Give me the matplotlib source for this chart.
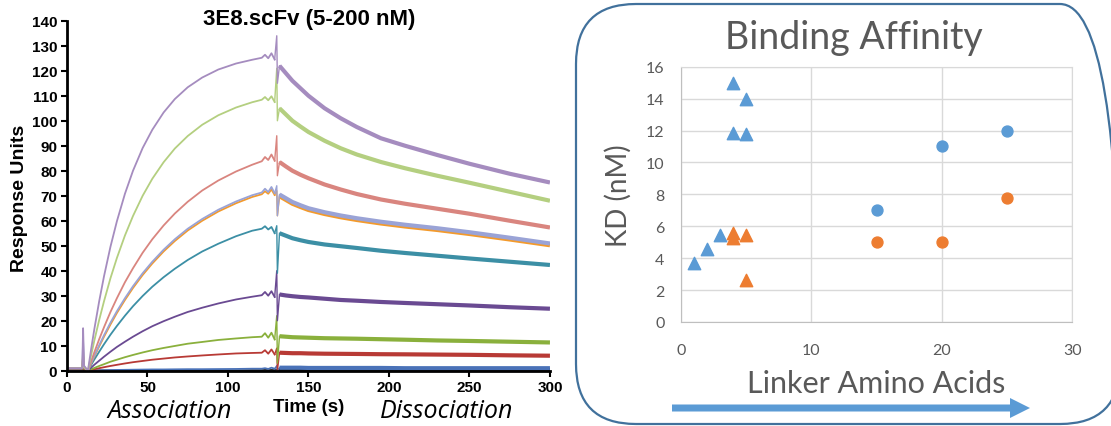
import matplotlib.pyplot as plt
from matplotlib.patches import FancyBboxPatch, FancyArrow

plt.rcParams['font.family'] = ['Liberation Sans', 'DejaVu Sans']

# ---- left panel: sensorgram ----
t_assoc = [0, 9.5, 10, 10.6, 13, 15, 17, 20, 23, 27, 31, 36, 41, 47, 53, 60, 67, 75, 84, 94,
           105, 115, 121, 123, 125, 127, 129]
t_spike = [130.3, 130.7]
t_dissoc = [132, 136, 140, 145, 150, 160, 170, 180, 195, 210, 230, 250, 275, 300]

black_assoc = [0.2, 0.2, 0.5, 0.2, 0, 0, 0, 0.1, 0.1, 0.1, 0.1, 0.1, 0.1, 0.1, 0.1, 0.1, 0.1,
               0.1, 0.1, 0.1, 0.1, 0.2, 0.2, 0.3, 0.2, 0.3, 0.2]
black_dissoc = [0.3] * 14
blue_assoc = [0.3, 0.3, 1.0, 0.4, 0, 0.05, 0.1, 0.15, 0.2, 0.25, 0.3, 0.35, 0.4, 0.45, 0.5,
              0.5, 0.55, 0.6, 0.6, 0.65, 0.7, 0.8, 0.8, 1.0, 0.7, 1.2, 0.8]
blue_dissoc = [1.2, 1.2, 1.2, 1.2, 1.1, 1.1, 1.1, 1.1, 1.1, 1.0, 1.0, 1.0, 1.0, 1.0]
darkred_assoc = [0.5, 0.5, 1.5, 0.5, 0, 0.3, 0.59, 1.0, 1.4, 1.9, 2.35, 2.9, 3.4, 3.9, 4.4,
                 4.85, 5.3, 5.7, 6.1, 6.5, 6.9, 7.1, 7.2, 8.2, 6.8, 8.5, 6.5]
darkred_dissoc = [7.2, 7.1, 7.0, 7.0, 6.9, 6.8, 6.75, 6.7, 6.6, 6.55, 6.45, 6.35, 6.15, 6.0]
olive_assoc = [0.8, 0.8, 2, 0.8, 0, 0.57, 1.1, 1.9, 2.6, 3.6, 4.4, 5.4, 6.3, 7.3, 8.2, 9.1,
               9.9, 10.8, 11.5, 12.3, 12.9, 13.4, 13.6, 15.0, 13.2, 15.2, 12.5]
olive_dissoc = [13.8, 13.6, 13.4, 13.3, 13.2, 13.0, 12.9, 12.8, 12.6, 12.4, 12.1, 11.9, 11.6, 11.3]
dpurple_assoc = [0.8, 0.8, 3, 1, 0, 1.2, 2.4, 4.0, 5.6, 7.6, 9.5, 11.6, 13.6, 15.8, 17.8,
                 19.8, 21.6, 23.5, 25.2, 26.9, 28.5, 29.6, 30.2, 31.5, 30.0, 31.8, 29.5]
dpurple_dissoc = [30.5, 30.1, 29.8, 29.5, 29.3, 28.8, 28.3, 28.0, 27.5, 27.1, 26.6, 26.1, 25.4, 24.8]
teal_assoc = [1, 1, 5, 1.2, 0, 2.3, 4.5, 7.6, 10.6, 14.4, 17.9, 22.0, 25.8, 29.9, 33.6, 37.4,
              40.8, 44.3, 47.7, 50.8, 53.8, 56.0, 56.8, 57.8, 56.5, 57.5, 55]
teal_dissoc = [55, 54, 53, 52.2, 51.5, 50.5, 49.8, 49.1, 48, 47.1, 46, 44.9, 43.6, 42.3]
orange_assoc = [1, 1, 6, 1.2, 0, 2.9, 5.7, 9.7, 13.6, 18.5, 23.1, 28.3, 33.1, 38.3, 42.9,
                47.7, 51.9, 56.1, 60.0, 63.7, 67.0, 69.5, 70.6, 71.8, 70.8, 72.5, 70.3]
orange_dissoc = [69.8, 68.3, 66.8, 65.5, 64.3, 62.7, 61.4, 60.3, 58.9, 57.7, 56.3, 54.7, 52.5, 50.2]
lav_assoc = [1, 1, 12, 1.5, 0, 3.1, 6.0, 10.2, 14.2, 19.2, 23.8, 29.0, 33.8, 39.0, 43.6, 48.4,
             52.6, 56.8, 60.7, 64.4, 67.7, 70.2, 71.3, 72.8, 71.5, 73.5, 71]
lav_dissoc = [70.5, 69, 67.5, 66.2, 65, 63.4, 62.1, 61, 59.6, 58.4, 57, 55.4, 53.2, 50.9]
salmon_assoc = [1, 1, 6, 1.5, 0, 3.8, 7.4, 12.6, 17.4, 23.5, 29.0, 35.4, 41.0, 47.2, 52.6,
                58.1, 62.9, 67.6, 72.1, 76.1, 79.7, 82.4, 83.8, 85.5, 84.3, 86.5, 84]
salmon_dissoc = [83.5, 81.7, 80, 78.4, 77, 74.5, 72.5, 70.7, 68.5, 66.8, 64.8, 62.8, 60, 57.3]
green_assoc = [1, 1, 8, 1.5, 0, 6.2, 12.1, 20.3, 27.8, 37.0, 45.1, 54.1, 61.9, 70.0, 76.8,
               83.4, 88.9, 93.9, 98.4, 102.2, 105.3, 107.4, 108.4, 109.5, 108.2, 109.8, 107.5]
green_dissoc = [105, 102.5, 100, 97.7, 95.5, 92, 89, 86.5, 83.5, 81, 78, 75.2, 71.6, 68]
purple_assoc = [1, 1, 17, 2, 0, 8.65, 16.7, 27.8, 37.8, 49.6, 59.8, 70.8, 80.0, 89.1, 96.4,
                103.3, 108.7, 113.4, 117.3, 120.5, 122.9, 124.4, 125.2, 126.4, 125.0, 127.0, 124.5]
purple_dissoc = [122, 119, 116, 113, 110, 105, 101, 97.5, 93, 90, 86.3, 82.8, 78.8, 75.3]

assoc_curves = [black_assoc, blue_assoc, darkred_assoc, olive_assoc, dpurple_assoc, teal_assoc,
                orange_assoc, lav_assoc, salmon_assoc, green_assoc, purple_assoc]
dissoc_curves = [black_dissoc, blue_dissoc, darkred_dissoc, olive_dissoc, dpurple_dissoc, teal_dissoc,
                 orange_dissoc, lav_dissoc, salmon_dissoc, green_dissoc, purple_dissoc]
spike_high = [0.5, 2, 9, 22, 40, 58, 72, 74, 94, 121, 134]
spike_low = [0, 0, 0, 3, 20, 39, 62, 62, 78, 100, 115]
curve_colors = ['#222222', '#4a72b8', '#b83a35', '#8ab03c', '#6a4a92', '#3c8fa5',
                '#f39a2c', '#9aa3d6', '#d9857f', '#b4cf80', '#a58cbf']

# ---- right panel: binding affinity ----
tri_blue_x = [1, 2, 3, 4, 4, 5, 5]
tri_blue_y = [3.7, 4.55, 5.45, 15.0, 11.85, 14.0, 11.75]
tri_orange_x = [4, 4, 5, 5]
tri_orange_y = [5.55, 5.25, 5.45, 2.6]
dot_blue_x = [15, 20, 25]
dot_blue_y = [7.0, 11.0, 12.0]
dot_orange_x = [15, 20, 25]
dot_orange_y = [5.0, 5.0, 7.8]

fig = plt.figure(figsize=(11.11, 4.27), dpi=100)

# left
ax = fig.add_axes([0.0603, 0.1295, 0.4347, 0.8195])
for a, d, hi, lo, c in zip(assoc_curves, dissoc_curves, spike_high, spike_low, curve_colors):
    ax.plot(t_assoc, a, color=c, lw=1.3)
    ax.plot([t_assoc[-1]] + t_spike + [t_dissoc[0]], [a[-1], hi, lo, d[0]], color=c, lw=1.0)
    ax.plot(t_dissoc, d, color=c, lw=3.0, solid_capstyle='butt')
ax.set_xlim(0, 300)
ax.set_ylim(0, 140)
ax.set_xticks(range(0, 301, 50))
ax.set_yticks(range(0, 141, 10))
for s in ['top', 'right']:
    ax.spines[s].set_visible(False)
for s in ['left', 'bottom']:
    ax.spines[s].set_linewidth(2)
ax.tick_params(direction='out', length=4, width=1.5, labelsize=11, pad=3)
for lab in ax.get_xticklabels() + ax.get_yticklabels():
    lab.set_fontweight('bold')
fig.text(309 / 1111, 1 - 19 / 427, '3E8.scFv (5-200 nM)', fontsize=16, fontweight='bold',
         ha='center', va='center')
fig.text(20 / 1111, 1 - 198 / 427, 'Response Units', fontsize=14, fontweight='bold',
         rotation=90, ha='center', va='center')
fig.text(309 / 1111, 1 - 408 / 427, 'Time (s)', fontsize=13.5, fontweight='bold',
         ha='center', va='center')
fig.text(170 / 1111, 1 - 412 / 427, 'Association', fontsize=18, style='italic',
         family='Open Sans', ha='center', va='center')
fig.text(447 / 1111, 1 - 412 / 427, 'Dissociation', fontsize=18, style='italic',
         family='Open Sans', ha='center', va='center')

# right
gray = '#595959'
ax2 = fig.add_axes([0.613, 0.2436, 0.352, 0.5979])
ax2.scatter(tri_blue_x, tri_blue_y, marker='^', s=80, color='#5b9bd5', zorder=3)
ax2.scatter(tri_orange_x, tri_orange_y, marker='^', s=80, color='#ed7d31', zorder=3)
ax2.scatter(dot_blue_x, dot_blue_y, marker='o', s=62, color='#5b9bd5', zorder=3)
ax2.scatter(dot_orange_x, dot_orange_y, marker='o', s=62, color='#ed7d31', zorder=3)
ax2.set_xlim(0, 30)
ax2.set_ylim(0, 16)
ax2.set_xticks(range(0, 31, 10))
ax2.set_yticks(range(0, 17, 2))
ax2.grid(color='#d9d9d9', lw=1)
ax2.set_axisbelow(True)
for s in ax2.spines.values():
    s.set_color('#d9d9d9')
ax2.spines['left'].set_color('#bfbfbf')
ax2.spines['bottom'].set_color('#bfbfbf')
ax2.tick_params(length=0, labelsize=11.5, labelcolor=gray)
ax2.tick_params(axis='x', pad=15)
ax2.tick_params(axis='y', pad=12)
for lab in ax2.get_xticklabels() + ax2.get_yticklabels():
    lab.set_family('Lato')
ax2.set_ylabel('KD (nM)', fontsize=20, color=gray, family='Lato', labelpad=10)
ax2.set_xlabel('Linker Amino Acids', fontsize=22, color=gray, family='Lato', labelpad=9)
fig.text(854 / 1111, 1 - 38 / 427, 'Binding Affinity', fontsize=27, color=gray,
         family='Lato', ha='center', va='center')

# rounded frame and arrow, in pixel coordinates
ov = fig.add_axes([0, 0, 1, 1], zorder=-1)
ov.set_xlim(0, 1111)
ov.set_ylim(0, 427)
ov.axis('off')
ov.add_patch(FancyBboxPatch((576, 2), 544, 420, boxstyle='round,pad=0,rounding_size=60',
                            fill=False, edgecolor='#41719c', lw=1.6))
ov.add_patch(FancyArrow(672, 18, 338, 0, width=7, head_width=20, head_length=20,
                        length_includes_head=False, color='#5b9bd5', lw=0))

fig.savefig('out.png', dpi=100)
